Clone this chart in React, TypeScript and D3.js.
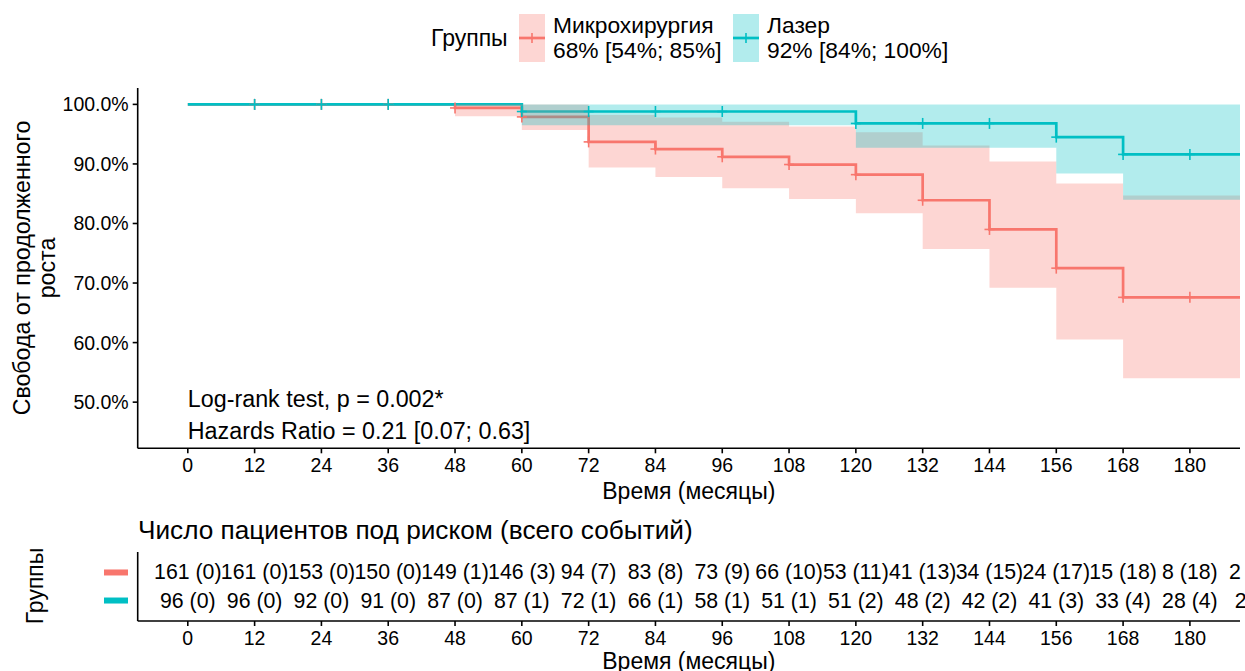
import React from "react";
import * as d3 from "d3";

// Kaplan–Meier steps
const groups = ["Микрохирургия", "Лазер"];
const colors = ["#F8766D", "#00BFC4"];

const redTimes = [0, 48, 60, 72, 84, 96, 108, 120, 132, 144, 156, 168];
const redSurv = [1, 0.994, 0.979, 0.937, 0.925, 0.912, 0.899, 0.882, 0.839, 0.79, 0.725, 0.676];
const redUpper = [1, 1, 1, 0.982, 0.978, 0.971, 0.963, 0.953, 0.931, 0.904, 0.867, 0.847];
const redLower = [1, 0.98, 0.957, 0.894, 0.878, 0.859, 0.841, 0.817, 0.757, 0.692, 0.605, 0.54];
const redCensor = [12, 24, 36, 48, 60, 72, 84, 96, 108, 120, 132, 144, 156, 168, 180];

const tealTimes = [0, 60, 120, 156, 168];
const tealSurv = [1, 0.988, 0.968, 0.945, 0.916];
const tealUpper = [1, 1, 1, 1, 1];
const tealLower = [1, 0.965, 0.927, 0.884, 0.84];
const tealCensor = [12, 24, 36, 60, 72, 84, 96, 120, 132, 144, 156, 168, 180];

const xTicks = [0, 12, 24, 36, 48, 60, 72, 84, 96, 108, 120, 132, 144, 156, 168, 180];
const yTicks = [0.5, 0.6, 0.7, 0.8, 0.9, 1.0];

// risk table
const riskTimes = [0, 12, 24, 36, 48, 60, 72, 84, 96, 108, 120, 132, 144, 156, 168, 180, 192];
const redRisk = ["161 (0)", "161 (0)", "153 (0)", "150 (0)", "149 (1)", "146 (3)", "94 (7)", "83 (8)", "73 (9)", "66 (10)", "53 (11)", "41 (13)", "34 (15)", "24 (17)", "15 (18)", "8 (18)", "2 (18)"];
const tealRisk = ["96 (0)", "96 (0)", "92 (0)", "91 (0)", "87 (0)", "87 (1)", "72 (1)", "66 (1)", "58 (1)", "51 (1)", "51 (2)", "48 (2)", "42 (2)", "41 (3)", "33 (4)", "28 (4)", "2 (4)"];

const legendStats = ["68% [54%; 85%]", "92% [84%; 100%]"];

const W = 1245;
const H = 671;
const FONT = "'Liberation Sans', Arial, sans-serif";

function band(c: string) {
  const k = d3.rgb(c);
  k.opacity = 0.3;
  return k.toString();
}

export default function App() {
  const x = d3.scaleLinear().domain([-9, 189]).range([137.7, 1240]);
  const y = d3.scaleLinear().domain([0.4225, 1.0275]).range([448.3, 88]);
  const xEnd = x.domain()[1];

  const series = [
    { times: redTimes, surv: redSurv, up: redUpper, lo: redLower, cens: redCensor },
    { times: tealTimes, surv: tealSurv, up: tealUpper, lo: tealLower, cens: tealCensor },
  ];

  const line = d3
    .line<[number, number]>()
    .x((d) => x(d[0]))
    .y((d) => y(d[1]))
    .curve(d3.curveStepAfter);

  const area = d3
    .area<[number, number, number]>()
    .x((d) => x(d[0]))
    .y0((d) => y(d[1]))
    .y1((d) => y(d[2]))
    .curve(d3.curveStepAfter);

  const stepAt = (times: number[], vals: number[], t: number) =>
    vals[d3.bisectRight(times, t) - 1];

  const yRisk = d3.scalePoint().domain(groups).range([552, 621]).padding(0.73);

  return (
    <svg
      width={W}
      height={H}
      style={{ position: "absolute", left: 0, top: 0, background: "#fff" }}
      fontFamily={FONT}
    >
      {/* legend */}
      <text x={431} y={38} fontSize={23} dominantBaseline="central">
        Группы
      </text>
      {groups.map((g, i) => {
        const kx = i === 0 ? 519 : 733;
        return (
          <g key={g}>
            <rect x={kx} y={14} width={26} height={48} fill={band(colors[i])} />
            <line x1={kx} x2={kx + 26} y1={38} y2={38} stroke={colors[i]} strokeWidth={2.7} />
            <line x1={kx + 13} x2={kx + 13} y1={33} y2={43} stroke={colors[i]} strokeWidth={1.6} />
            <text x={kx + 34} y={25} fontSize={22.8} dominantBaseline="central">
              {g}
            </text>
            <text x={kx + 34} y={50} fontSize={22.8} dominantBaseline="central">
              {legendStats[i]}
            </text>
          </g>
        );
      })}

      {/* curves */}
      {series.map((s, i) => {
        const pts: [number, number][] = s.times.map((t, j) => [t, s.surv[j]]);
        pts.push([xEnd, s.surv[s.surv.length - 1]]);
        return (
          <path key={"l" + i} d={line(pts) || ""} fill="none" stroke={colors[i]} strokeWidth={2.7} />
        );
      })}
      {series.map((s, i) => {
        const pts: [number, number, number][] = s.times.map((t, j) => [t, s.lo[j], s.up[j]]);
        pts.push([xEnd, s.lo[s.lo.length - 1], s.up[s.up.length - 1]]);
        return <path key={"b" + i} d={area(pts) || ""} fill={band(colors[i])} />;
      })}
      {series.map((s, i) =>
        s.cens.map((t) => {
          const cx = x(t);
          const cy = y(stepAt(s.times, s.surv, t));
          return (
            <g key={"c" + i + "-" + t} stroke={colors[i]} strokeWidth={1.6}>
              <line x1={cx - 5} x2={cx + 5} y1={cy} y2={cy} />
              <line x1={cx} x2={cx} y1={cy - 5.5} y2={cy + 5.5} />
            </g>
          );
        })
      )}

      {/* annotations */}
      <text x={x(0)} y={399} fontSize={23.3} dominantBaseline="central">
        Log-rank test, p = 0.002*
      </text>
      <text x={x(0)} y={431} fontSize={23.3} dominantBaseline="central">
        Hazards Ratio = 0.21 [0.07; 0.63]
      </text>

      {/* y axis */}
      <line x1={x.range()[0]} x2={x.range()[0]} y1={y.range()[1]} y2={y.range()[0]} stroke="#000" strokeWidth={1.6} />
      {yTicks.map((t) => (
        <g key={t}>
          <line x1={x.range()[0] - 5} x2={x.range()[0]} y1={y(t)} y2={y(t)} stroke="#000" strokeWidth={1.6} />
          <text x={x.range()[0] - 9} y={y(t)} fontSize={19.5} textAnchor="end" dominantBaseline="central">
            {d3.format(".1%")(t)}
          </text>
        </g>
      ))}
      <text transform="translate(22,268) rotate(-90)" fontSize={23.2} textAnchor="middle" dominantBaseline="central">
        Свобода от продолженного
      </text>
      <text transform="translate(47,268) rotate(-90)" fontSize={23.2} textAnchor="middle" dominantBaseline="central">
        роста
      </text>

      {/* x axis */}
      <line x1={x.range()[0]} x2={x.range()[1]} y1={y.range()[0]} y2={y.range()[0]} stroke="#000" strokeWidth={1.6} />
      {xTicks.map((t) => (
        <g key={t}>
          <line x1={x(t)} x2={x(t)} y1={y.range()[0]} y2={y.range()[0] + 5} stroke="#000" strokeWidth={1.6} />
          <text x={x(t)} y={y.range()[0] + 17} fontSize={19.5} textAnchor="middle" dominantBaseline="central">
            {t}
          </text>
        </g>
      ))}
      <text x={(x.range()[0] + x.range()[1]) / 2} y={491} fontSize={23} textAnchor="middle" dominantBaseline="central">
        Время (месяцы)
      </text>

      {/* risk table */}
      <text x={138} y={530} fontSize={26.2} dominantBaseline="central">
        Число пациентов под риском (всего событий)
      </text>
      {groups.map((g, i) => (
        <rect key={g} x={104} y={(yRisk(g) || 0) - 3} width={24} height={6} fill={colors[i]} />
      ))}
      {[redRisk, tealRisk].map((row, i) =>
        row.map((lab, j) => (
          <text
            key={i + "-" + j}
            x={x(riskTimes[j])}
            y={yRisk(groups[i])}
            fontSize={21.3}
            textAnchor="middle"
            dominantBaseline="central"
          >
            {lab}
          </text>
        ))
      )}
      <text transform="translate(35,586) rotate(-90)" fontSize={23} textAnchor="middle" dominantBaseline="central">
        Группы
      </text>
      <line x1={x.range()[0]} x2={x.range()[0]} y1={552} y2={621} stroke="#000" strokeWidth={1.6} />
      <line x1={x.range()[0]} x2={x.range()[1]} y1={621} y2={621} stroke="#000" strokeWidth={1.6} />
      {xTicks.map((t) => (
        <g key={"r" + t}>
          <line x1={x(t)} x2={x(t)} y1={621} y2={626} stroke="#000" strokeWidth={1.6} />
          <text x={x(t)} y={638} fontSize={19.5} textAnchor="middle" dominantBaseline="central">
            {t}
          </text>
        </g>
      ))}
      <text x={(x.range()[0] + x.range()[1]) / 2} y={661} fontSize={23} textAnchor="middle" dominantBaseline="central">
        Время (месяцы)
      </text>
    </svg>
  );
}
